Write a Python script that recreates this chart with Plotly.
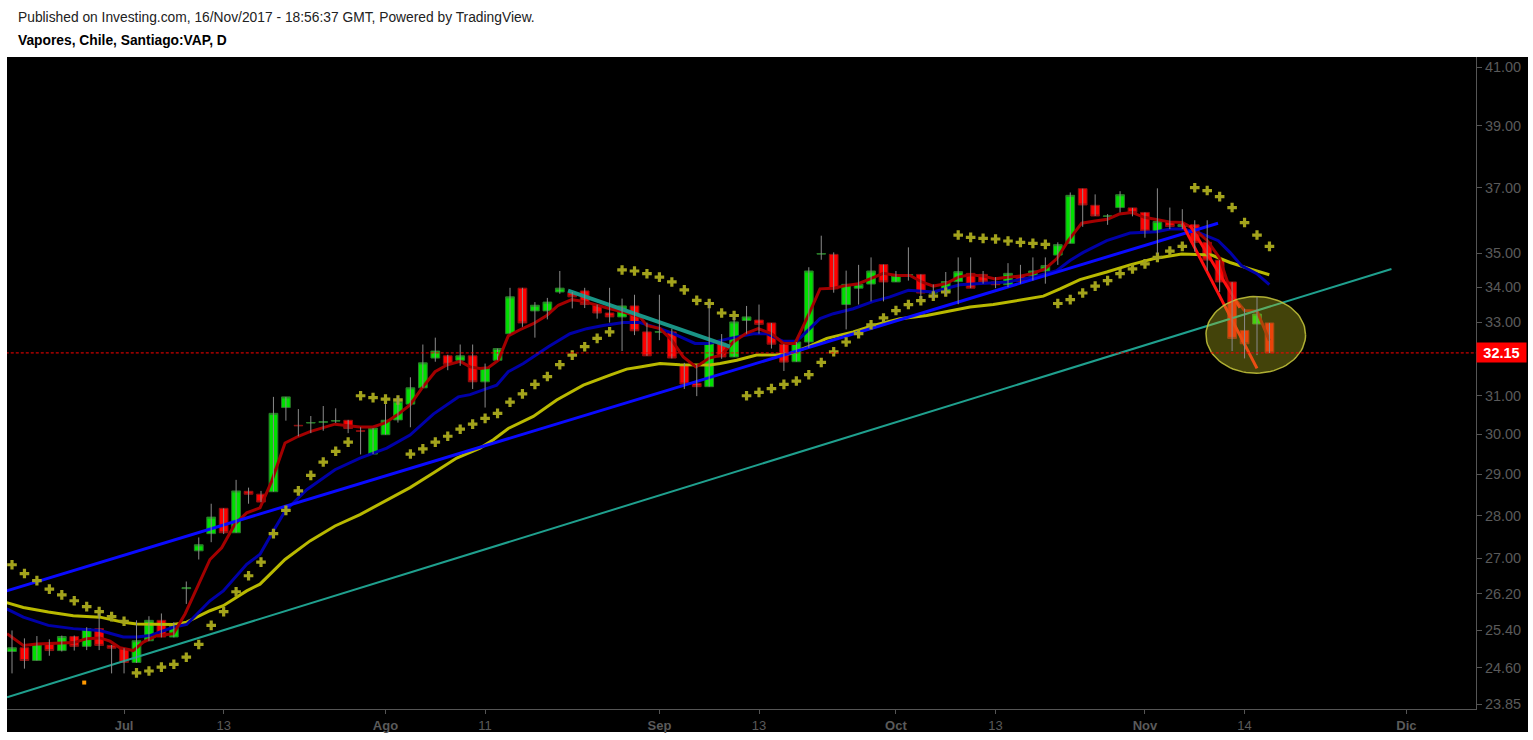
import numpy as np
import pandas as pd
import plotly.graph_objects as go

# ---------------- data ----------------
holidays = ["2017-06-26", "2017-08-15", "2017-09-18", "2017-09-19",
            "2017-10-09", "2017-10-27", "2017-11-01"]

opens = [24.94, 25.02, 24.75, 25.10, 24.96, 25.26, 25.05, 25.43, 25.07, 25.00,
         24.71, 25.17, 25.61, 25.25, 26.31, 27.17, 27.57, 28.17, 27.59, 28.58,
         28.51, 28.57, 30.69, 30.23, 30.29, 30.31, 30.34, 30.36, 30.09, 29.50,
         29.99, 30.37, 30.78, 31.21, 32.01, 32.07, 31.95, 32.07, 31.37, 31.95,
         32.68, 33.97, 33.32, 33.32, 33.86, 33.84, 33.89, 33.48, 33.26, 33.15,
         33.46, 32.73, 32.72, 32.73, 31.82, 31.33, 31.24, 32.42, 32.04, 33.05,
         33.06, 32.98, 32.39, 31.91, 32.45, 34.97, 34.96, 33.50, 33.97, 34.09,
         34.66, 34.15, 34.35, 34.37, 33.83, 33.86, 34.16, 34.40, 34.37, 34.15,
         34.07, 34.32, 34.32, 34.47, 34.94, 35.29, 36.97, 36.45, 36.11, 36.38,
         36.37, 36.23, 35.65, 35.95, 35.80, 35.85, 35.32, 34.79, 34.15, 32.77,
         32.95, 32.98]
highs = [25.39, 25.22, 25.27, 25.20, 25.28, 25.28, 25.46, 25.75, 25.08, 25.01,
         25.61, 25.70, 25.76, 25.57, 26.47, 27.48, 28.28, 28.17, 28.86, 28.67,
         28.59, 30.97, 30.97, 30.65, 30.47, 30.73, 30.67, 30.37, 30.18, 30.16,
         30.78, 30.97, 31.49, 32.38, 32.57, 32.10, 32.38, 32.38, 31.86, 32.27,
         33.98, 33.98, 33.57, 33.69, 34.47, 33.86, 33.98, 33.50, 33.98, 33.67,
         33.78, 32.99, 33.78, 32.82, 31.88, 31.82, 33.57, 32.67, 33.15, 33.46,
         33.50, 32.98, 32.39, 32.45, 34.58, 35.52, 35.02, 34.48, 34.65, 34.87,
         34.66, 34.47, 35.17, 34.37, 34.08, 34.44, 34.87, 34.87, 34.47, 34.29,
         34.70, 34.65, 34.87, 34.87, 35.32, 36.85, 36.97, 36.79, 36.18, 36.89,
         36.37, 36.23, 36.98, 36.38, 36.33, 35.99, 35.99, 34.79, 34.15, 33.38,
         33.72, 32.98]
lows = [24.48, 24.58, 24.75, 24.85, 24.94, 24.96, 24.97, 24.97, 24.48, 24.48,
        24.70, 25.16, 25.24, 25.24, 25.97, 26.97, 27.37, 27.56, 27.59, 28.28,
        28.32, 28.57, 30.35, 29.95, 30.03, 30.09, 30.29, 30.03, 29.49, 29.50,
        29.99, 30.30, 30.18, 31.21, 31.91, 31.68, 31.80, 31.18, 30.69, 31.95,
        32.68, 32.87, 32.57, 33.08, 33.81, 33.39, 33.40, 33.10, 32.99, 32.20,
        32.64, 32.07, 32.50, 32.00, 31.18, 30.99, 31.24, 31.99, 32.04, 32.68,
        32.68, 32.27, 31.66, 31.91, 32.29, 34.80, 33.84, 32.80, 33.50, 33.59,
        33.59, 34.15, 34.19, 33.67, 33.67, 33.78, 33.51, 33.97, 34.10, 33.97,
        34.00, 34.10, 34.19, 34.10, 34.65, 35.29, 35.79, 36.12, 35.85, 36.23,
        36.11, 35.46, 34.97, 35.72, 35.72, 35.04, 34.48, 33.86, 32.20, 32.00,
        32.09, 32.15]
closes = [25.02, 24.75, 25.10, 24.96, 25.26, 25.05, 25.43, 25.07, 25.01, 24.71,
          25.17, 25.61, 25.25, 25.48, 26.33, 27.31, 27.96, 27.59, 28.59, 28.51,
          28.32, 30.54, 30.97, 30.22, 30.30, 30.32, 30.35, 30.15, 30.08, 30.16,
          30.36, 30.85, 31.21, 31.88, 32.20, 31.84, 32.07, 31.37, 31.75, 32.27,
          33.72, 32.98, 33.48, 33.57, 33.97, 33.72, 33.50, 33.26, 33.15, 33.46,
          32.76, 32.07, 32.74, 32.01, 31.31, 31.24, 32.42, 32.04, 33.01, 33.15,
          32.94, 32.39, 31.90, 32.45, 34.47, 34.98, 33.95, 34.08, 34.08, 34.47,
          34.15, 34.34, 34.36, 33.83, 33.84, 34.16, 34.45, 33.97, 34.15, 34.07,
          34.40, 34.17, 34.47, 34.63, 35.25, 36.76, 36.46, 36.12, 36.12, 36.78,
          36.23, 35.66, 35.95, 35.80, 35.86, 35.32, 34.79, 34.15, 32.55, 32.40,
          33.23, 32.15]

# Parabolic SAR, one value per bar
sar = [26.85, 26.65, 26.49, 26.30, 26.17, 26.04, 25.91, 25.80, 25.69, 25.59,
       24.49, 24.53, 24.61, 24.67, 24.82, 25.09, 25.50, 25.80, 26.24, 26.60,
       26.91, 27.57, 28.12, 28.59, 28.97, 29.30, 29.57, 29.80, 31.00, 30.95,
       30.91, 30.89, 29.50, 29.63, 29.80, 29.95, 30.13, 30.26, 30.41, 30.54,
       30.83, 31.05, 31.30, 31.51, 31.83, 32.09, 32.32, 32.55, 32.73, 34.50,
       34.47, 34.39, 34.29, 34.15, 33.92, 33.62, 33.53, 33.26, 33.19, 31.00,
       31.09, 31.19, 31.30, 31.39, 31.56, 31.89, 32.18, 32.45, 32.68, 32.93,
       33.12, 33.33, 33.50, 33.61, 33.74, 33.86, 35.54, 35.47, 35.44, 35.42,
       35.36, 35.32, 35.29, 35.26, 33.53, 33.64, 33.83, 34.03, 34.19, 34.39,
       34.53, 34.68, 34.87, 35.06, 35.20, 37.00, 36.91, 36.72, 36.38, 35.92,
       35.54, 35.20]

# moving averages: (bar position, price)
ma_fast = [(-0.4, 25.32), (0.91, 25.07), (1.98, 25.10), (3.86, 25.12), (4.98, 25.13),
           (5.97, 25.21), (7.07, 25.23), (7.87, 25.16), (8.67, 25.02), (9.74, 24.96),
           (10.55, 25.14), (11.62, 25.28), (12.96, 25.32), (13.9, 25.75), (15.1, 26.49),
           (15.9, 26.97), (16.84, 27.24), (17.9, 27.79), (18.85, 28.06), (19.92, 28.18),
           (20.86, 28.83), (21.93, 29.78), (23.0, 29.95), (23.94, 30.07), (25.0, 30.17),
           (25.94, 30.26), (27.0, 30.22), (27.95, 30.19), (29.0, 30.19), (29.96, 30.29),
           (30.95, 30.50), (31.97, 30.76), (32.9, 31.19), (33.98, 31.64), (34.92, 31.82),
           (36.0, 31.92), (36.79, 31.77), (37.59, 31.73), (38.26, 31.75), (39.06, 31.95),
           (39.86, 32.62), (40.8, 32.79), (41.87, 32.96), (42.95, 33.19), (43.88, 33.48),
           (44.96, 33.64), (45.89, 33.59), (46.96, 33.48), (48.03, 33.38), (49.1, 33.29),
           (50.44, 33.15), (50.98, 32.91), (52.05, 32.82), (52.99, 32.50), (53.92, 32.04),
           (54.94, 31.77), (56.0, 32.01), (56.97, 32.09), (57.94, 32.45), (59.01, 32.70),
           (59.94, 32.82), (61.02, 32.68), (61.95, 32.41), (62.89, 32.41), (63.96, 33.19),
           (64.9, 33.95), (65.97, 33.97), (67.04, 34.05), (67.98, 34.10), (68.92, 34.24),
           (69.98, 34.40), (71.06, 34.34), (72.13, 34.34), (73.07, 34.15), (74.0, 34.03),
           (75.02, 34.10), (76.01, 34.29), (76.95, 34.36), (78.02, 34.32), (78.96, 34.24),
           (79.94, 34.29), (80.96, 34.32), (81.9, 34.39), (82.97, 34.53), (83.91, 34.83),
           (84.84, 35.37), (85.92, 35.90), (86.99, 35.97), (87.98, 36.02), (88.94, 36.18),
           (89.94, 36.23), (90.95, 36.08), (91.99, 36.00), (92.96, 35.94), (94.0, 35.92),
           (94.96, 35.72), (96.01, 35.37), (97.0, 34.85), (98.0, 33.75), (99.0, 33.33),
           (100.0, 33.31), (101.0, 32.49)]
ma_mid = [(-0.43, 25.86), (0.91, 25.68), (2.92, 25.50), (4.92, 25.43), (7.07, 25.39),
          (8.94, 25.25), (10.02, 25.25), (11.08, 25.28), (12.96, 25.46), (14.03, 25.52),
          (15.9, 26.04), (16.97, 26.26), (18.85, 26.86), (19.92, 27.09), (20.99, 27.63),
          (21.93, 28.10), (23.67, 28.62), (25.94, 29.11), (27.95, 29.40), (30.1, 29.65),
          (31.97, 29.98), (33.84, 30.52), (35.85, 30.97), (36.79, 31.03), (38.13, 31.19),
          (38.93, 31.28), (39.86, 31.64), (41.07, 31.86), (43.08, 32.32), (44.82, 32.68),
          (46.16, 32.82), (47.49, 32.91), (49.1, 32.99), (50.44, 32.99), (52.05, 32.82),
          (53.12, 32.68), (54.86, 32.41), (55.93, 32.41), (57.67, 32.55), (59.54, 32.68),
          (60.62, 32.68), (61.95, 32.47), (63.03, 32.47), (64.9, 33.10), (65.97, 33.24),
          (67.57, 33.38), (69.18, 33.59), (70.52, 33.72), (71.99, 33.91), (74.0, 33.86),
          (76.14, 34.07), (78.02, 34.10), (79.9, 34.15), (82.03, 34.29), (83.91, 34.48),
          (84.98, 34.78), (86.05, 35.02), (87.93, 35.37), (89.8, 35.60), (91.94, 35.64),
          (93.01, 35.72), (94.08, 35.72), (95.42, 35.60), (96.89, 35.37), (97.83, 35.02),
          (98.77, 34.62), (99.98, 34.39), (100.99, 34.07)]
ma_slow = [(-0.43, 26.00), (0.91, 25.89), (2.92, 25.79), (4.92, 25.71), (7.07, 25.68),
           (8.94, 25.57), (10.02, 25.53), (11.62, 25.52), (12.96, 25.52), (14.03, 25.57),
           (15.9, 25.82), (16.97, 25.93), (18.85, 26.26), (19.92, 26.41), (20.99, 26.71),
           (21.93, 26.97), (23.94, 27.40), (25.94, 27.75), (27.95, 28.02), (29.96, 28.34),
           (31.97, 28.67), (33.84, 29.03), (35.72, 29.40), (37.59, 29.65), (38.66, 29.86),
           (39.86, 30.15), (41.87, 30.46), (43.75, 30.89), (45.89, 31.28), (48.03, 31.55),
           (49.37, 31.71), (50.44, 31.77), (52.05, 31.86), (53.65, 31.83), (54.86, 31.82),
           (56.06, 31.82), (56.87, 31.86), (58.21, 31.95), (59.81, 32.09), (61.42, 32.10),
           (62.49, 32.13), (63.96, 32.32), (65.44, 32.55), (67.57, 32.73), (69.18, 32.91),
           (70.52, 33.02), (71.33, 33.10), (73.47, 33.19), (75.08, 33.31), (76.95, 33.43),
           (78.82, 33.50), (80.7, 33.62), (82.84, 33.74), (84.18, 33.95), (85.78, 34.22),
           (87.93, 34.44), (89.8, 34.65), (91.67, 34.83), (92.74, 34.90), (93.95, 34.97),
           (96.36, 34.94), (97.83, 34.72), (99.44, 34.53), (100.99, 34.36)]

# drawings on the chart: (bar position, price) end points
blue_trend = [(-0.43, 26.26), (96.87, 35.90)]
teal_trend = [(-0.4, 23.99), (110.8, 34.53)]
teal_short = [(44.66, 33.90), (57.67, 32.32)]
red_draw_1 = [(93.98, 35.90), (100.0, 31.73)]
red_draw_2 = [(94.62, 35.84), (98.63, 33.41)]
orange_mark = [(5.8, 24.29)]
ellipse_box = {"x0": 95.9, "x1": 103.9, "p0": 31.60, "p1": 33.73}

last_price = 32.15

tick_dates = ["2017-07-03", "2017-07-13", "2017-08-01", "2017-08-11", "2017-09-01",
              "2017-09-13", "2017-10-02", "2017-10-13", "2017-11-02", "2017-11-14",
              "2017-12-01"]
tick_text = ["<b>Jul</b>", "13", "<b>Ago</b>", "11", "<b>Sep</b>", "13", "<b>Oct</b>",
             "13", "<b>Nov</b>", "14", "<b>Dic</b>"]
price_ticks = [23.85, 24.60, 25.40, 26.20, 27.00, 28.00, 29.00, 30.00, 31.00, 32.00,
               33.00, 34.00, 35.00, 37.00, 39.00, 41.00]

# ---------------- build ----------------
all_days = [d for d in pd.bdate_range("2017-06-19", "2017-12-29")
            if d.strftime("%Y-%m-%d") not in holidays]
day_pos = {d.strftime("%Y-%m-%d"): i for i, d in enumerate(all_days)}
n = len(closes)
xs = list(range(n))
tick_vals = [day_pos[d] for d in tick_dates]
# the 32.00 label sits under the last-price tag, as in the original
price_text = ["" if abs(v - 32.0) < 1e-9 else f"{v:.2f}" for v in price_ticks]

FONT = "Liberation Sans, Arial, sans-serif"
fig = go.Figure()


def line_trace(pts, color, width, name):
    return go.Scatter(x=[p[0] for p in pts], y=[p[1] for p in pts], mode="lines",
                      line=dict(color=color, width=width), name=name,
                      hoverinfo="skip", showlegend=False)


fig.add_trace(line_trace(ma_slow, "#b9b900", 3, "MA slow"))
fig.add_trace(line_trace(ma_mid, "#0000a8", 3, "MA mid"))
fig.add_trace(line_trace(ma_fast, "#a30000", 3, "MA fast"))
fig.add_trace(line_trace(teal_trend, "#1fa08e", 2, "trend"))
fig.add_trace(line_trace(teal_short, "#1a9486", 4, "trend short"))
fig.add_trace(line_trace(blue_trend, "#0a0aff", 3, "trend blue"))
fig.add_trace(line_trace(red_draw_1, "#ff1010", 3, "draw 1"))
fig.add_trace(line_trace(red_draw_2, "#ff1010", 3, "draw 2"))

fig.add_trace(go.Scatter(x=xs, y=sar, mode="markers",
                         marker=dict(symbol="cross", size=8, color="#a3a31c",
                                     line=dict(width=0)),
                         hoverinfo="skip", showlegend=False))
fig.add_trace(go.Scatter(x=[p[0] for p in orange_mark], y=[p[1] for p in orange_mark],
                         mode="markers",
                         marker=dict(symbol="square", size=4, color="#ff9900"),
                         hoverinfo="skip", showlegend=False))

# highlight ellipse (log-space ellipse inside its bounding box)
t = np.linspace(0, 2 * np.pi, 90)
cx = (ellipse_box["x0"] + ellipse_box["x1"]) / 2
rx = (ellipse_box["x1"] - ellipse_box["x0"]) / 2
cl = (np.log(ellipse_box["p0"]) + np.log(ellipse_box["p1"])) / 2
rl = (np.log(ellipse_box["p1"]) - np.log(ellipse_box["p0"])) / 2
fig.add_trace(go.Scatter(x=cx + rx * np.cos(t), y=np.exp(cl + rl * np.sin(t)),
                         mode="lines", fill="toself",
                         fillcolor="rgba(195,195,30,0.34)",
                         line=dict(color="rgba(200,200,60,0.85)", width=1.5),
                         hoverinfo="skip", showlegend=False))

# wicks
wx, wy = [], []
for i in range(n):
    wx += [i, i, None]
    wy += [lows[i], highs[i], None]
fig.add_trace(go.Scatter(x=wx, y=wy, mode="lines",
                         line=dict(color="#8a8a8a", width=1),
                         hoverinfo="skip", showlegend=False))

# bodies
body_hi = [max(o, c) for o, c in zip(opens, closes)]
body_lo = [min(o, c) for o, c in zip(opens, closes)]
fig.add_trace(go.Candlestick(x=xs, open=opens, high=body_hi, low=body_lo, close=closes,
                             increasing=dict(fillcolor="#00e000",
                                             line=dict(color="#2a7a2a", width=1)),
                             decreasing=dict(fillcolor="#ff0000",
                                             line=dict(color="#8b1010", width=1)),
                             whiskerwidth=0, showlegend=False, hoverinfo="skip"))

# last price line
fig.add_trace(go.Scatter(x=[-0.5, 118], y=[last_price, last_price], mode="lines",
                         line=dict(color="#ff0000", width=1, dash="3px,2px"),
                         hoverinfo="skip", showlegend=False))

W, H = 1533, 740
L, R, T, B = 7, 57, 57, 28
pw, ph = W - L - R, H - T - B
x_left = (L - 12) / 12.45
x_right = (W - R - 12) / 12.45

fig.update_layout(
    width=W, height=H,
    margin=dict(l=L, r=R, t=T, b=B, pad=0),
    paper_bgcolor="white", plot_bgcolor="black",
    font=dict(family=FONT, color="#5f5f5f", size=13),
    showlegend=False,
    boxgap=0.3, boxgroupgap=0,
    xaxis=dict(range=[x_left, x_right], tickvals=tick_vals, ticktext=tick_text,
               showgrid=False, zeroline=False, showline=True, linecolor="#555555",
               linewidth=1, ticks="outside", ticklen=4, tickcolor="#555555",
               tickfont=dict(size=13, color="#5a5a5a", family=FONT),
               rangeslider=dict(visible=False), fixedrange=True),
    yaxis=dict(type="log", side="right",
               range=[np.log10(23.75), np.log10(41.35)],
               tickvals=price_ticks, ticktext=price_text,
               showgrid=False, zeroline=False, showline=True, linecolor="#555555",
               linewidth=1, ticks="outside", ticklen=5, tickcolor="#555555",
               tickfont=dict(size=14.5, color="#5a5a5a", family=FONT), fixedrange=True),
    shapes=[dict(type="rect", xref="paper", yref="paper", x0=0,
                 x1=(1528 - L) / pw, y0=(H - B - 735) / ph, y1=1,
                 fillcolor="black", line=dict(width=0), layer="below")],
    annotations=[
        dict(xref="paper", yref="paper", x=(16 - L) / pw, y=(H - B - 17) / ph,
             xanchor="left", yanchor="middle", showarrow=False,
             text="Published on Investing.com, 16/Nov/2017 - 18:56:37 GMT, Powered by TradingView.",
             font=dict(family=FONT, size=13.8, color="#222222")),
        dict(xref="paper", yref="paper", x=(16 - L) / pw, y=(H - B - 40) / ph,
             xanchor="left", yanchor="middle", showarrow=False,
             text="<b>Vapores, Chile, Santiago:VAP, D</b>",
             font=dict(family=FONT, size=13.8, color="#000000")),
        dict(xref="paper", yref="y", x=1.0, y=np.log10(last_price),
             xanchor="left", yanchor="middle", showarrow=False,
             text=f"<b>{last_price:.2f}</b>", bgcolor="#ff0000",
             font=dict(family=FONT, size=14.5, color="white"),
             width=45, height=15, borderpad=2),
    ],
)

fig.write_html("out.html", config={"displayModeBar": False},
               post_script="document.body.style.margin='0px';")
